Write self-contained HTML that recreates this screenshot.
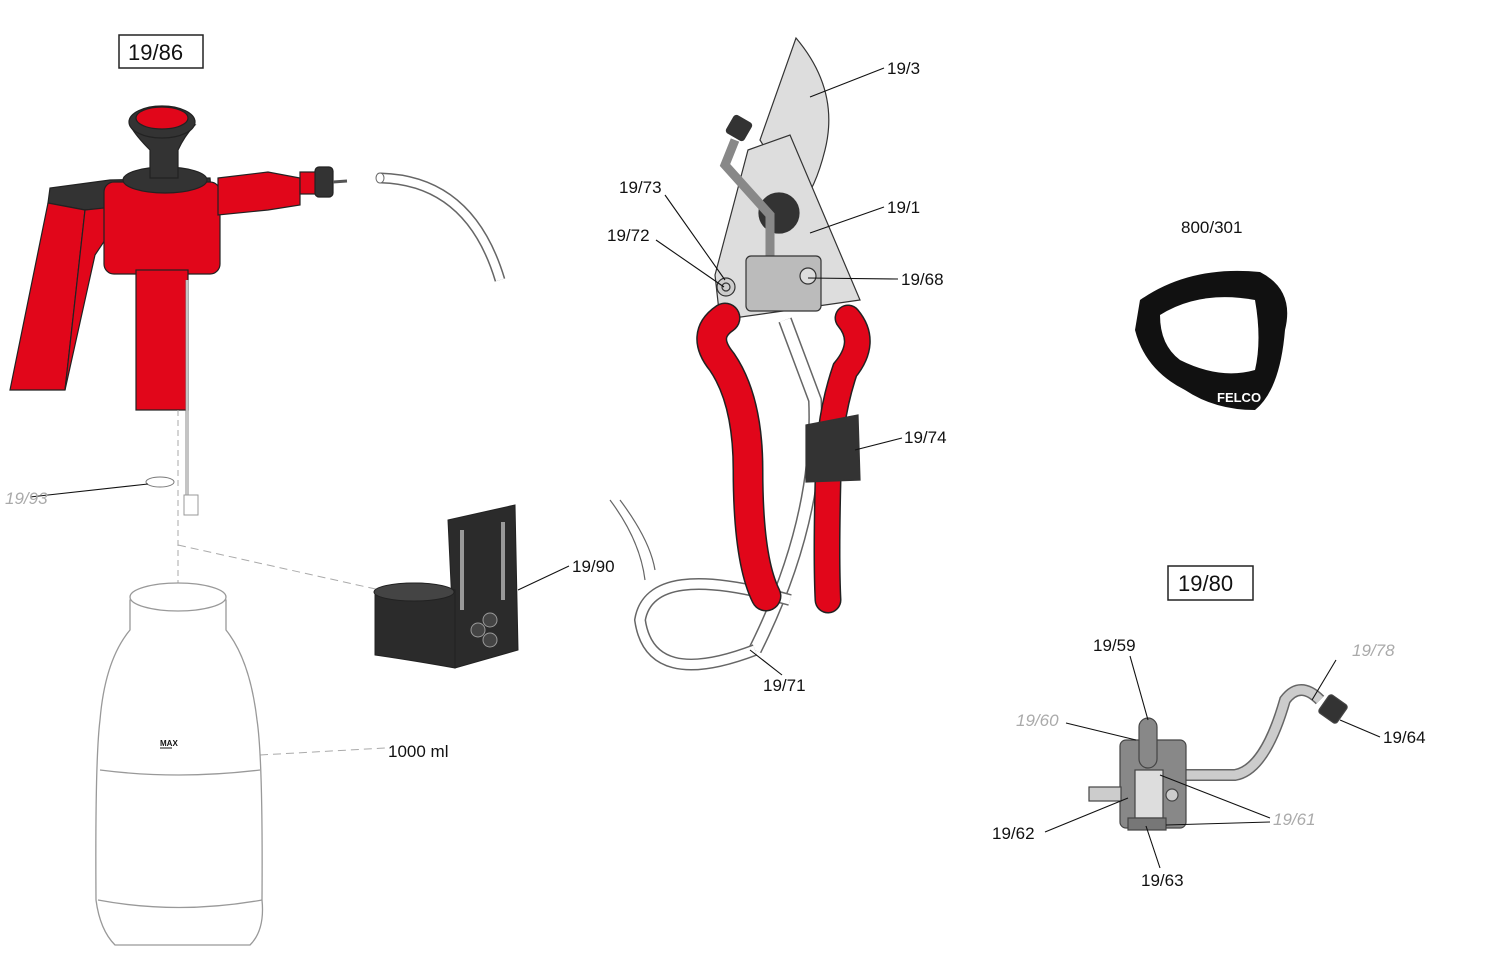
<!DOCTYPE html>
<html><head><meta charset="utf-8"><style>
html,body{margin:0;padding:0;background:#fff;width:1500px;height:975px;overflow:hidden}
svg{display:block}
text{font-family:"Liberation Sans",Arial,sans-serif;font-size:17px;fill:#111}
.g{fill:#aaa;font-style:italic}
</style></head><body>
<svg width="1500" height="975" viewBox="0 0 1500 975" xmlns="http://www.w3.org/2000/svg">
<rect x="119" y="35" width="84" height="33" fill="#fff" stroke="#222" stroke-width="1.5"/>
<text x="128" y="60" style="font-size:22px">19/86</text>
<rect x="1168" y="566" width="85" height="34" fill="#fff" stroke="#222" stroke-width="1.5"/>
<text x="1178" y="591" style="font-size:22px">19/80</text>

<!-- Sprayer -->
<g stroke="#222" stroke-width="1.2">
<path d="M48,203 L50,188 L110,180 L210,178 L212,200 L85,210 Z" fill="#333"/>
<path d="M48,203 L85,210 L65,390 L10,390 Z" fill="#e1061a"/>
<path d="M85,210 L132,205 L132,235 L105,240 L95,255 L65,390 Z" fill="#e1061a"/>
<rect x="104" y="182" width="116" height="92" rx="10" fill="#e1061a"/>
<rect x="136" y="270" width="52" height="140" fill="#e1061a"/>
<path d="M218,178 L268,172 L300,178 L300,205 L268,210 L218,215 Z" fill="#e1061a"/>
<rect x="300" y="172" width="30" height="22" fill="#e1061a"/>
<rect x="315" y="167" width="18" height="30" rx="4" fill="#333"/>
<line x1="333" y1="182" x2="347" y2="181" stroke="#555" stroke-width="3"/>
<ellipse cx="165" cy="180" rx="42" ry="13" fill="#333"/>
<path d="M150,178 L150,150 Q135,135 130,125 L195,125 Q185,135 178,150 L178,178 Z" fill="#333"/>
<ellipse cx="162" cy="122" rx="33" ry="16" fill="#333"/>
<ellipse cx="162" cy="118" rx="26" ry="11" fill="#e1061a"/>
</g>
<line x1="187" y1="280" x2="187" y2="500" stroke="#888" stroke-width="3"/>
<line x1="187" y1="280" x2="187" y2="500" stroke="#fff" stroke-width="1"/>
<rect x="184" y="495" width="14" height="20" fill="#fff" stroke="#999"/>
<ellipse cx="160" cy="482" rx="14" ry="5" fill="#fff" stroke="#777"/>
<line x1="178" y1="410" x2="178" y2="600" stroke="#aaa" stroke-dasharray="6,4"/>
<path d="M178,545 L380,590" stroke="#aaa" stroke-dasharray="8,5" fill="none"/>
<path d="M260,755 L385,748" stroke="#aaa" stroke-dasharray="8,5" fill="none"/>
<path d="M380,178 Q470,180 500,280" stroke="#666" stroke-width="11" fill="none"/>
<path d="M380,178 Q470,180 500,280" stroke="#fff" stroke-width="8" fill="none"/>
<ellipse cx="380" cy="178" rx="4" ry="5" fill="#fff" stroke="#666"/>
<!-- Bottle -->
<g stroke="#999" stroke-width="1.3" fill="#fff">
<path d="M130,600 L130,630 Q105,660 100,720 Q95,760 96,900 Q100,930 115,945 L250,945 Q265,930 262,900 Q263,760 257,720 Q250,660 226,630 L226,600 Z"/>
<ellipse cx="178" cy="597" rx="48" ry="14"/>
<path d="M100,770 Q178,780 260,770" fill="none"/>
<path d="M98,900 Q178,915 262,900" fill="none"/>
</g>
<text x="160" y="746" style="font-size:8px;font-weight:bold">MAX</text>
<line x1="160" y1="748" x2="172" y2="748" stroke="#111"/>
<!-- holder -->
<g stroke="#222" fill="#2b2b2b">
<path d="M448,520 L515,505 L518,650 L455,668 Z"/>
<path d="M375,592 Q410,575 455,590 L455,668 Q410,660 375,655 Z"/>
<ellipse cx="414" cy="592" rx="40" ry="9" fill="#444"/>
</g>
<line x1="462" y1="530" x2="462" y2="610" stroke="#999" stroke-width="4"/>
<line x1="503" y1="522" x2="503" y2="600" stroke="#999" stroke-width="4"/>
<circle cx="478" cy="630" r="7" fill="#444" stroke="#999"/><circle cx="490" cy="620" r="7" fill="#444" stroke="#999"/><circle cx="490" cy="640" r="7" fill="#444" stroke="#999"/>
<!-- pruner -->
<g stroke="#333" stroke-width="1.2">
<path d="M796,38 Q840,90 825,150 Q815,190 800,205 L760,140 Z" fill="#ddd"/>
<path d="M748,150 L790,135 L860,300 L720,320 L715,275 Z" fill="#ddd"/>
<path d="M785,320 Q800,360 815,400 Q820,520 755,650" stroke="#666" stroke-width="14" fill="none"/>
<path d="M785,320 Q800,360 815,400 Q820,520 755,650" stroke="#fff" stroke-width="11" fill="none"/>
<path d="M755,650 Q650,690 640,620 Q650,560 790,600" stroke="#666" stroke-width="12" fill="none"/>
<path d="M755,650 Q650,690 640,620 Q650,560 790,600" stroke="#fff" stroke-width="9" fill="none"/>
<path d="M610,500 Q640,540 645,580" stroke="#666" fill="none"/>
<path d="M620,500 Q650,540 655,570" stroke="#666" fill="none"/>
</g>
<path d="M725,318 Q700,335 722,362 Q748,400 748,470 Q748,560 766,596" stroke="#222" stroke-width="31" fill="none" stroke-linecap="round"/>
<path d="M725,318 Q700,335 722,362 Q748,400 748,470 Q748,560 766,596" stroke="#e1061a" stroke-width="28" fill="none" stroke-linecap="round"/>
<path d="M848,318 Q868,342 845,370 Q828,420 828,480 Q826,560 828,600" stroke="#222" stroke-width="27" fill="none" stroke-linecap="round"/>
<path d="M848,318 Q868,342 845,370 Q828,420 828,480 Q826,560 828,600" stroke="#e1061a" stroke-width="24" fill="none" stroke-linecap="round"/>
<g stroke="#333" stroke-width="1.2">
<circle cx="779" cy="213" r="20" fill="#333"/>
<path d="M770,260 L770,215 L725,165 L735,140" stroke="#888" stroke-width="9" fill="none"/>
<rect x="729" y="118" width="20" height="20" rx="3" fill="#333" transform="rotate(30 739 128)"/>
<rect x="746" y="256" width="75" height="55" rx="5" fill="#bbb"/>
<circle cx="808" cy="276" r="8" fill="#ddd"/>
<circle cx="726" cy="287" r="9" fill="#ccc"/>
<circle cx="726" cy="287" r="4" fill="none"/>
<path d="M806,425 L858,415 L860,480 L806,482 Z" fill="#333"/>
</g>
<!-- strap -->
<g>
<path d="M1140,300 Q1190,265 1260,272 Q1295,290 1285,330 Q1280,390 1255,410 Q1215,410 1185,390 Q1145,370 1135,330 Z" fill="#111"/>
<path d="M1160,315 Q1200,290 1255,300 Q1262,340 1255,370 Q1220,380 1180,360 Q1160,345 1160,315 Z" fill="#fff"/>
<text x="1217" y="402" style="font-size:13px;font-weight:bold;fill:#fff">FELCO</text>
</g>
<!-- valve -->
<g stroke="#444" stroke-width="1.2">
<path d="M1150,775 L1235,775 Q1265,770 1285,700 Q1300,680 1320,700" stroke="#666" stroke-width="12" fill="none"/>
<path d="M1150,775 L1235,775 Q1265,770 1285,700 Q1300,680 1320,700" stroke="#ccc" stroke-width="9" fill="none"/>
<rect x="1322" y="698" width="22" height="22" rx="3" fill="#333" transform="rotate(35 1333 709)"/>
<rect x="1120" y="740" width="66" height="88" rx="6" fill="#888"/>
<rect x="1139" y="718" width="18" height="50" rx="9" fill="#888"/>
<rect x="1135" y="770" width="28" height="48" fill="#ddd"/>
<rect x="1128" y="818" width="38" height="12" fill="#777"/>
<rect x="1089" y="787" width="32" height="14" fill="#ccc"/>
<circle cx="1172" cy="795" r="6" fill="#ccc"/>
</g>
<g stroke="#111" stroke-width="1.1" fill="none">
<line x1="810" y1="97" x2="884" y2="68"/>
<line x1="810" y1="233" x2="884" y2="207"/>
<line x1="665" y1="195" x2="725" y2="280"/>
<line x1="656" y1="240" x2="724" y2="287"/>
<line x1="808" y1="278" x2="898" y2="279"/>
<line x1="855" y1="450" x2="902" y2="438"/>
<line x1="30" y1="497" x2="148" y2="484"/>
<line x1="518" y1="590" x2="569" y2="566"/>
<line x1="750" y1="650" x2="782" y2="675"/>
<line x1="1130" y1="656" x2="1148" y2="720"/>
<line x1="1066" y1="723" x2="1136" y2="740"/>
<line x1="1336" y1="660" x2="1312" y2="700"/>
<line x1="1340" y1="720" x2="1380" y2="737"/>
<line x1="1045" y1="832" x2="1128" y2="798"/>
<line x1="1160" y1="775" x2="1270" y2="818"/>
<line x1="1166" y1="825" x2="1270" y2="822"/>
<line x1="1146" y1="826" x2="1160" y2="868"/>
</g>
<text x="887" y="74">19/3</text>
<text x="619" y="193">19/73</text>
<text x="887" y="213">19/1</text>
<text x="607" y="241">19/72</text>
<text x="901" y="285">19/68</text>
<text x="1181" y="233">800/301</text>
<text x="904" y="443">19/74</text>
<text x="5" y="504" class="g">19/93</text>
<text x="572" y="572">19/90</text>
<text x="763" y="691">19/71</text>
<text x="388" y="757">1000 ml</text>
<text x="1093" y="651">19/59</text>
<text x="1352" y="656" class="g">19/78</text>
<text x="1016" y="726" class="g">19/60</text>
<text x="1383" y="743">19/64</text>
<text x="992" y="839">19/62</text>
<text x="1273" y="825" class="g">19/61</text>
<text x="1141" y="886">19/63</text>
</svg>
</body></html>
